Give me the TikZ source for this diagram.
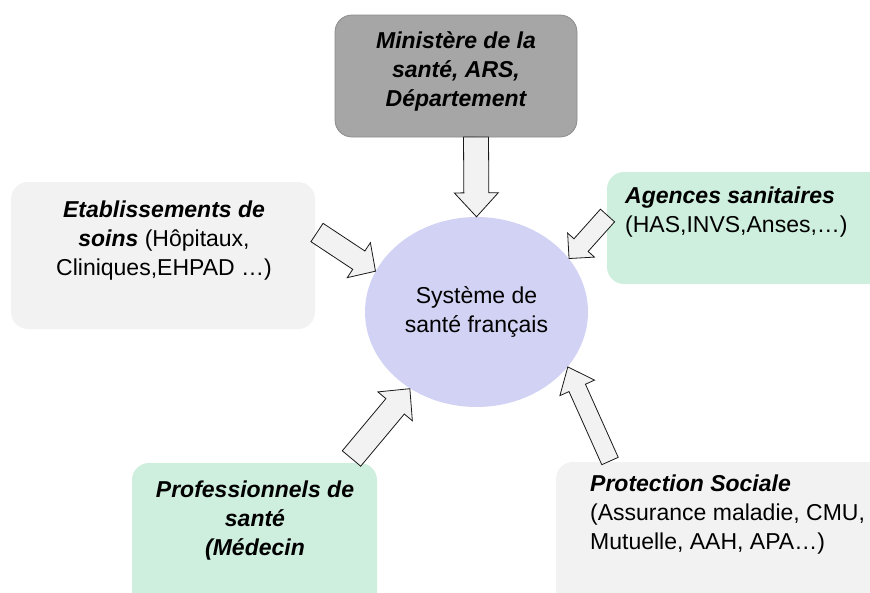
\documentclass[tikz,border=0pt]{standalone}
\usepackage{fontspec}
\setmainfont{Liberation Sans}
\usetikzlibrary{positioning, calc, shapes.geometric}
\definecolor{clGrey}    {RGB}{242,242,242}
\definecolor{clDark}    {RGB}{166,166,166}
\definecolor{clDarkBd}  {RGB}{140,140,140}
\definecolor{clMint}    {RGB}{206,238,222}
\definecolor{clLilac}   {RGB}{210,210,244}
\definecolor{clArrowBd} {RGB}{ 25, 25, 25}
\tikzset{
  %% rounded box
  box/.style={
    rectangle, rounded corners=17pt, inner sep=0pt
  },
  %% colour variants
  grey/.style ={box, fill=clGrey},
  mint/.style ={box, fill=clMint},
  dark/.style ={box, fill=clDark, draw=clDarkBd, line width=0.8pt},
  %% texts
  txt/.style={
    inner sep=0pt, font=\fontsize{23}{29}\selectfont, text=black
  },
  txtC/.style={txt, align=center},
  txtL/.style={txt, align=left, anchor=west},
  %% centre ellipse
  hub/.style={
    ellipse, fill=clLilac, inner sep=0pt, align=center,
    minimum width=223pt, minimum height=190pt,
    font=\fontsize{23}{29}\selectfont
  },
  %% block arrow: shaft half width, head half width, head length
  blk/.style n args={3}{
    draw=clArrowBd, fill=clGrey, line width=0.8pt,
    to path={
      let \p1=($(\tikztotarget)-(\tikztostart)$),
          \n1={veclen(\x1,\y1)}, \n2={atan2(\y1,\x1)} in
      [shift={(\tikztostart)}, rotate=\n2, x=1pt, y=1pt]
      (0,-#1) -- ({\n1-#3},-#1) -- ({\n1-#3},-#2) -- (\n1,0)
      -- ({\n1-#3},#2) -- ({\n1-#3},#1) -- (0,#1) -- cycle
    }
  }
}
\newcommand{\bi}[1]{\textbf{\textit{#1}}}

\begin{document}
\begin{tikzpicture}[x=1pt, y=-1pt]

\useasboundingbox (0,0) rectangle (870,592);
\clip (0,0) rectangle (870,592);

%% ═══════════════════════════════════════════════════════════════
%%  CENTRE
%% ═══════════════════════════════════════════════════════════════

\node[hub] (hub) at (476.5,312) {Système de\\santé français};

%% ═══════════════════════════════════════════════════════════════
%%  BOXES
%% ═══════════════════════════════════════════════════════════════

\node[dark, minimum width=242, minimum height=122] (min) at (456,76) {};
\node[txtC, font=\fontsize{23}{29}\selectfont\bfseries\itshape]
  (minTxt) at (456,71) {Ministère de la\\santé, ARS,\\Département};

\node[grey, minimum width=304, minimum height=147] (etab) at (163,255.5) {};
\node[txtC] (etabTxt) at (164,241) {
  \bi{Etablissements de}\\
  \bi{soins} (Hôpitaux,\\
  Cliniques,EHPAD …)
};

\node[mint, minimum width=290, minimum height=112] (agen) at (752,228) {};
\node[txtL] (agenTxt) at (625,212.5) {
  \bi{Agences sanitaires}\\
  (HAS,INVS,Anses,…)
};

\node[mint, minimum width=245, minimum height=147] (pro) at (254.5,536.5) {};
\node[txtC, font=\fontsize{23}{29}\selectfont\bfseries\itshape]
  (proTxt) at (255,521) {Professionnels de\\santé\\(Médecin};

\node[grey, minimum width=334, minimum height=148] (prot) at (723,536) {};
\node[txtL] (protTxt) at (590,515) {
  \bi{Protection Sociale}\\
  (Assurance maladie, CMU,\\
  Mutuelle, AAH, APA…)
};

%% ═══════════════════════════════════════════════════════════════
%%  BLOCK ARROWS
%% ═══════════════════════════════════════════════════════════════

\coordinate (minTail)  at (476,137);
\coordinate (etabTail) at (317,232.5);
\coordinate (agenTail) at (607.5,215.5);
\coordinate (proTail)  at (351.5,458.5);
\coordinate (protTail) at (610,461);

\draw[blk={12.5}{22}{24}]   (minTail)  to (hub.90);
\draw[blk={11}{21}{20}]     (etabTail) to (hub.158);
\draw[blk={9.5}{18}{18}]    (agenTail) to (hub.30);
\draw[blk={12}{22.5}{23}]   (proTail)  to (hub.229);
\draw[blk={9}{19}{23}]      (protTail) to (hub.-31);

\end{tikzpicture}
\end{document}
